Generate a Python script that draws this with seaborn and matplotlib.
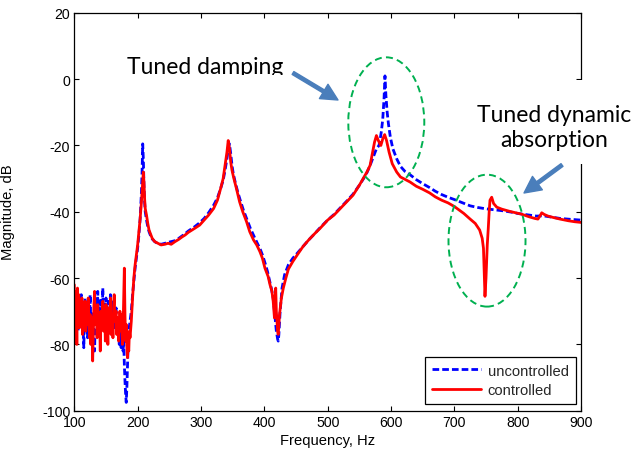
import numpy as np
import pandas as pd
import matplotlib
matplotlib.use("Agg")
import matplotlib.pyplot as plt
import seaborn as sns
from matplotlib.patches import Ellipse, Rectangle, FancyArrowPatch
from matplotlib.transforms import Bbox

# ---------------- data ----------------
freq_unc = [100, 101, 102, 103, 104, 105, 106, 107, 108, 110, 111, 112, 113, 115, 116, 117, 118,
            120, 121, 122, 124, 125, 126, 128, 129, 130, 131, 132, 133, 135, 136, 137, 138, 140,
            141, 142, 144, 145, 146, 148, 149, 150, 152, 153, 154, 156, 157, 158, 160, 161, 162,
            163, 164, 166, 167, 168, 170, 171, 172, 174, 175, 176, 177, 178, 179, 180, 181, 182,
            183, 184, 185, 186, 188, 190, 192, 194, 196, 198, 200, 202, 204, 206, 207, 208, 209,
            210, 211, 212, 214, 216, 218, 220, 223, 227, 232, 237, 243, 248, 253, 259, 265, 270,
            275, 280, 290, 298, 305, 312, 320, 326, 331, 335, 338, 341, 343, 345, 347, 349, 351,
            354, 358, 362, 367, 373, 378, 384, 389, 394, 398, 402, 405, 408, 411, 414, 417, 419,
            421, 422, 423, 425, 428, 432, 438, 445, 452, 461, 470, 480, 488, 500, 510, 520, 530,
            540, 550, 556, 562, 567, 572, 577, 581, 583, 585, 587, 589, 590.5, 592, 594, 596, 599,
            603, 609, 615, 622, 630, 640, 650, 661, 670, 680, 690, 700, 712, 725, 737, 750, 763,
            777, 790, 800, 815, 830, 840, 850, 867, 885, 900]
mag_unc = [-66, -72, -68, -74, -67, -71, -76, -68, -73, -70, -65, -75, -69, -81, -72, -66, -74,
           -70, -78, -68, -72, -65, -75, -70, -77, -72, -80, -82, -73, -67, -71, -64, -74, -69,
           -77, -66, -72, -63, -73, -68, -76, -66, -71, -74, -67, -72, -65, -74, -68, -73, -67,
           -71, -75, -69, -74, -77, -72, -80, -76, -81, -73, -78, -82, -79, -86, -91, -95, -97.5,
           -93, -86, -80, -76, -73, -70, -65, -61, -57, -54, -51, -47, -42, -34, -28, -19.5, -24,
           -32, -37, -40, -42.5, -44.5, -46, -47, -48.2, -49, -49.6, -49.8, -49.5, -49.2, -49, -48.7, -48, -47.3,
           -46.6, -45.8, -44.5, -43.3, -42, -40.3, -38, -35.8, -33, -30.5, -27.5, -24, -21, -19.5, -22.5, -26, -28.5,
           -31, -34, -36.5, -39.5, -42.5, -45, -47.5, -49.5, -51.5, -53.5, -56, -58, -60.5, -63, -66, -72, -76,
           -78.4, -79, -77, -70, -63, -59, -56, -54, -52.5, -50.5, -48.5, -46.5, -44.8, -42.5, -40.8, -38.8, -36.8,
           -34.7, -32, -30.2, -28.2, -26, -23.5, -21, -20, -18, -15.5, -12, -6, 1, -5, -10, -13.5, -17.5,
           -21, -24, -26.3, -27.8, -28.8, -30.3, -31.5, -32.7, -33.8, -34.8, -35.6, -36.3, -37.2, -38.2, -38.7, -39.1, -39.4,
           -39.7, -40.1, -40.5, -40.9, -41.3, -41.2, -41.5, -42, -42.3, -42.5]

freq_ctl = [100, 101, 102, 103, 104, 105, 106, 107, 108, 110, 111, 112, 113, 115, 116, 117, 118,
            120, 121, 122, 124, 125, 126, 128, 129, 130, 131, 132, 133, 135, 136, 137, 138, 140,
            141, 142, 144, 145, 146, 148, 149, 150, 152, 153, 154, 156, 157, 158, 160, 161, 162,
            163, 164, 166, 167, 168, 170, 171, 172, 174, 175, 176, 177, 178, 179, 180, 181, 182,
            183, 184, 185, 186, 187, 188, 190, 192, 194, 196, 198, 200, 202, 204, 206, 208, 209,
            210, 211, 212, 214, 216, 218, 220, 223, 227, 232, 237, 243, 248, 253, 259, 265, 270,
            275, 280, 290, 298, 305, 312, 320, 326, 331, 335, 338, 341, 343, 345, 347, 349, 352,
            356, 361, 366, 372, 377, 383, 388, 393, 397, 401, 404, 406, 409, 412, 414, 416, 417,
            418, 419, 421, 422, 424, 427, 430, 434, 438, 445, 452, 461, 470, 480, 488, 500, 510,
            520, 530, 540, 550, 556, 562, 567, 571, 574, 577, 580, 584, 587, 590, 593, 597, 602,
            609, 615, 622, 630, 640, 650, 661, 670, 680, 690, 700, 715, 725, 733, 740, 744, 746,
            747, 748.4, 750, 752, 753.6, 755, 756.3, 759, 762, 767, 775, 788, 806, 818, 827, 832,
            836, 838, 842, 848, 858, 867, 880, 890, 900]
mag_ctl = [-62, -78, -64, -66, -80, -63, -70, -65, -75, -68, -72, -66, -77, -69, -73, -67, -76,
           -70, -74, -66, -78, -71, -80, -72, -85, -77, -68, -64, -74, -70, -78, -68, -75, -72,
           -82, -70, -74, -67, -76, -70, -79, -68, -74, -80, -69, -75, -66, -77, -71, -78, -69,
           -65, -73, -70, -77, -72, -79, -74, -70, -76, -71, -80, -75, -66, -57, -71, -79, -74,
           -81, -84, -80, -82, -76, -78, -73, -66, -60, -56, -53, -50, -46, -42, -37, -31, -28,
           -31, -36, -39, -41, -43.5, -45.5, -46.5, -48, -49, -49.5, -50, -49.8, -49.5, -49.8, -49, -48.3, -47.6,
           -47, -46.2, -45, -44, -42.5, -41, -39, -36.5, -33, -30, -26, -22, -18.5, -21, -25, -27.5, -30,
           -33, -37, -40, -43, -46, -48.5, -50, -52, -54, -57, -58.5, -59.5, -62, -64, -67, -72, -66,
           -63, -70, -76, -77, -71, -66, -63, -60, -57.3, -55, -53, -50.5, -48.5, -46.5, -45, -42.5, -41,
           -39, -37, -35, -32, -30, -28, -26, -22, -19, -17, -18.5, -20, -18, -16.7, -18.5, -22, -25.5,
           -28, -29.5, -30.2, -31, -32.3, -33.2, -34.3, -35.5, -36.5, -37.3, -38.4, -40.5, -42.2, -43.5, -45.5, -48, -51,
           -57, -65.5, -60, -50, -45, -40, -36.5, -35.6, -37.5, -38.6, -39.2, -39.9, -40.7, -41.5, -42, -42.2,
           -41, -40.3, -40.8, -41.3, -41.8, -42.2, -42.7, -43, -43.2]

series_names = ["uncontrolled", "controlled"]
x_ticks = [100, 200, 300, 400, 500, 600, 700, 800, 900]
y_ticks = [-100, -80, -60, -40, -20, 0, 20]

df = pd.concat([
    pd.DataFrame({"freq": freq_unc, "mag": mag_unc, "series": series_names[0]}),
    pd.DataFrame({"freq": freq_ctl, "mag": mag_ctl, "series": series_names[1]}),
], ignore_index=True)

# ---------------- style ----------------
sns.set_theme(style="white")
plt.rcParams["font.family"] = ["Liberation Sans", "DejaVu Sans"]
plt.rcParams["axes.unicode_minus"] = False

W, H = 643, 456
fig = plt.figure(figsize=(W / 100, H / 100), dpi=100)
ax = fig.add_axes([74.3 / W, 1 - 411.7 / H, (581 - 74.3) / W, (411.7 - 13.9) / H])

sns.lineplot(data=df, x="freq", y="mag", hue="series", style="series",
             hue_order=series_names, style_order=series_names,
             palette={"uncontrolled": "#0000FF", "controlled": "#FF0000"},
             dashes={"uncontrolled": (2.4, 1.1), "controlled": ""},
             estimator=None, sort=False, linewidth=2.0, legend=False, ax=ax)

ax.set_xlim(100, 900)
ax.set_ylim(-100, 20)
ax.set_xticks(x_ticks)
ax.set_yticks(y_ticks)
ax.set_xticklabels([str(v) for v in x_ticks])
ax.set_yticklabels([str(v) for v in y_ticks])
ax.tick_params(direction="in", length=3.5, width=0.8, colors="black", labelsize=10.2,
               top=True, right=True, bottom=True, left=True, pad=3)
for s in ax.spines.values():
    s.set_color("black")
    s.set_linewidth(0.9)
ax.set_xlabel("Frequency, Hz", fontsize=10.6, color="black")
ax.set_ylabel("Magnitude, dB", fontsize=10.6, color="black")
ax.xaxis.set_label_coords(0.5, -0.056)
ax.yaxis.set_label_coords(-0.117, 0.502)

leg = ax.legend(handles=ax.lines[:2], labels=series_names, loc="lower right",
                bbox_to_anchor=(0.9895, 0.0168), borderaxespad=0, fancybox=False,
                frameon=True, fontsize=10.6, handlelength=3.3, handletextpad=0.45,
                labelspacing=0.36, borderpad=0.48)
leg.get_frame().set_edgecolor("black")
leg.get_frame().set_linewidth(0.9)
leg.get_frame().set_alpha(1)

# ---------------- annotations ----------------
green = "#00B050"
for (cx, cy, w, h) in [(592.6, -13.0, 120, 39.2), (751.6, -48.7, 121.6, 39.8)]:
    ax.add_patch(Ellipse((cx, cy), w, h, fill=False, edgecolor=green, lw=1.4,
                         linestyle=(0, (3.6, 2.2)), clip_on=False, zorder=5))

def px(x, y):
    return (x, H - y)

# white text box that hides part of the right axis
fig.patches.append(Rectangle(px(470, 165), 173, 84, transform=None,
                             facecolor="white", edgecolor="none", zorder=3))

arrow_col = "#4A7EBB"
for (x0, y0, x1, y1) in [(293, 74, 338, 101), (562, 166, 524, 194)]:
    fig.patches.append(FancyArrowPatch(px(x0, y0), px(x1, y1), transform=None,
                                       arrowstyle="simple,head_length=1.2,head_width=1.2,tail_width=0.24",
                                       mutation_scale=10, color=arrow_col, zorder=6,
                                       shrinkA=0, shrinkB=0))

tfont = ["Lato", "DejaVu Sans"]
t1 = fig.text(205 / W, 1 - 67 / H, "Tuned damping", fontsize=16.5, family=tfont,
              ha="center", va="center", color="black", zorder=7)
t1.set_clip_box(Bbox.from_extents(0, H - 76, W, H))
t1.set_clip_on(True)
t2 = fig.text(554 / W, 1 - 128 / H, "Tuned dynamic\nabsorption", fontsize=16.5, family=tfont,
              ha="center", va="center", color="black", linespacing=1.25, zorder=7,
              multialignment="center")
t2.set_clip_box(Bbox.from_extents(0, H - 153, W, H))
t2.set_clip_on(True)

fig.savefig("out.png", dpi=100)
